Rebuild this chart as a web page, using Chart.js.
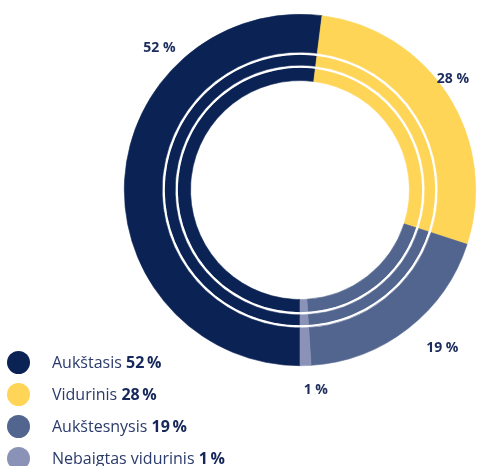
<!DOCTYPE html>
<html>
<head>
<meta charset="utf-8">
<script src="https://cdn.jsdelivr.net/npm/chart.js@4/dist/chart.umd.min.js"></script>
<style>
  html, body { margin: 0; padding: 0; background: #fff; }
  #wrap { position: relative; width: 492px; height: 466px; overflow: hidden; }
  #legend { position: absolute; left: 7px; top: 346px; font-family: "Open Sans", sans-serif; }
  .row { display: flex; align-items: center; height: 32px; }
  .dot { width: 23px; height: 23px; border-radius: 50%; margin-right: 22px; }
  .txt { font-size: 16px; color: #2b3b6b; white-space: nowrap; }
  .txt b { color: #14265a; font-weight: 700; }
</style>
</head>
<body>
<div id="wrap">
  <canvas id="dona" width="492" height="466"></canvas>
  <div id="legend"></div>
</div>
<script>
const categorias = ['Aukštasis', 'Vidurinis', 'Aukštesnysis', 'Nebaigtas vidurinis'];
const porcentajes = [52, 28, 19, 1];
const colores = ['#0b2354', '#ffd558', '#52658f', '#8a93b7'];

// legenda en html
const legend = document.getElementById('legend');
categorias.forEach(function(cat, i) {
  const row = document.createElement('div');
  row.className = 'row';
  row.innerHTML = '<div class="dot" style="background:' + colores[i] + '"></div>' +
    '<div class="txt">' + cat + ' <b>' + porcentajes[i] + '\u2009%</b></div>';
  legend.appendChild(row);
});

// etiquetas fuera del anillo (desplazamiento relativo al centro, en radios)
const etiquetasPos = [[-0.80, -0.81], [0.87, -0.63], [0.81, 0.90], [0.09, 1.14]];
const etiquetasPlugin = {
  id: 'etiquetas',
  afterDraw(chart) {
    const arc = chart.getDatasetMeta(0).data[0];
    const ctx = chart.ctx;
    ctx.save();
    ctx.font = 'bold 14px "Open Sans", sans-serif';
    ctx.fillStyle = '#1c2c5c';
    ctx.textAlign = 'center';
    ctx.textBaseline = 'middle';
    porcentajes.forEach(function(v, i) {
      const p = etiquetasPos[i];
      ctx.fillText(v + ' %', arc.x + p[0] * arc.outerRadius, arc.y + p[1] * arc.outerRadius);
    });
    ctx.restore();
  }
};

const anillo = function(weight) {
  return {
    data: porcentajes,
    backgroundColor: colores,
    borderColor: colores,
    borderWidth: 0.6,
    weight: weight
  };
};
const separador = function(weight) {
  return {
    data: [1],
    backgroundColor: ['#ffffff'],
    borderColor: ['#ffffff'],
    borderWidth: 0,
    weight: weight
  };
};

const ctx = document.getElementById('dona').getContext('2d');
const myDonutChart = new Chart(ctx, {
  type: 'doughnut',
  data: {
    labels: categorias,
    datasets: [anillo(37.7), separador(2.6), anillo(10.4), separador(2.6), anillo(12.7)]
  },
  options: {
    responsive: false,
    animation: false,
    rotation: 180,
    cutout: '62.3%',
    events: [],
    layout: { padding: { left: 124, right: 16, top: 14, bottom: 100 } },
    plugins: {
      legend: { display: false },
      tooltip: { enabled: false }
    }
  },
  plugins: [etiquetasPlugin]
});
</script>
</body>
</html>
